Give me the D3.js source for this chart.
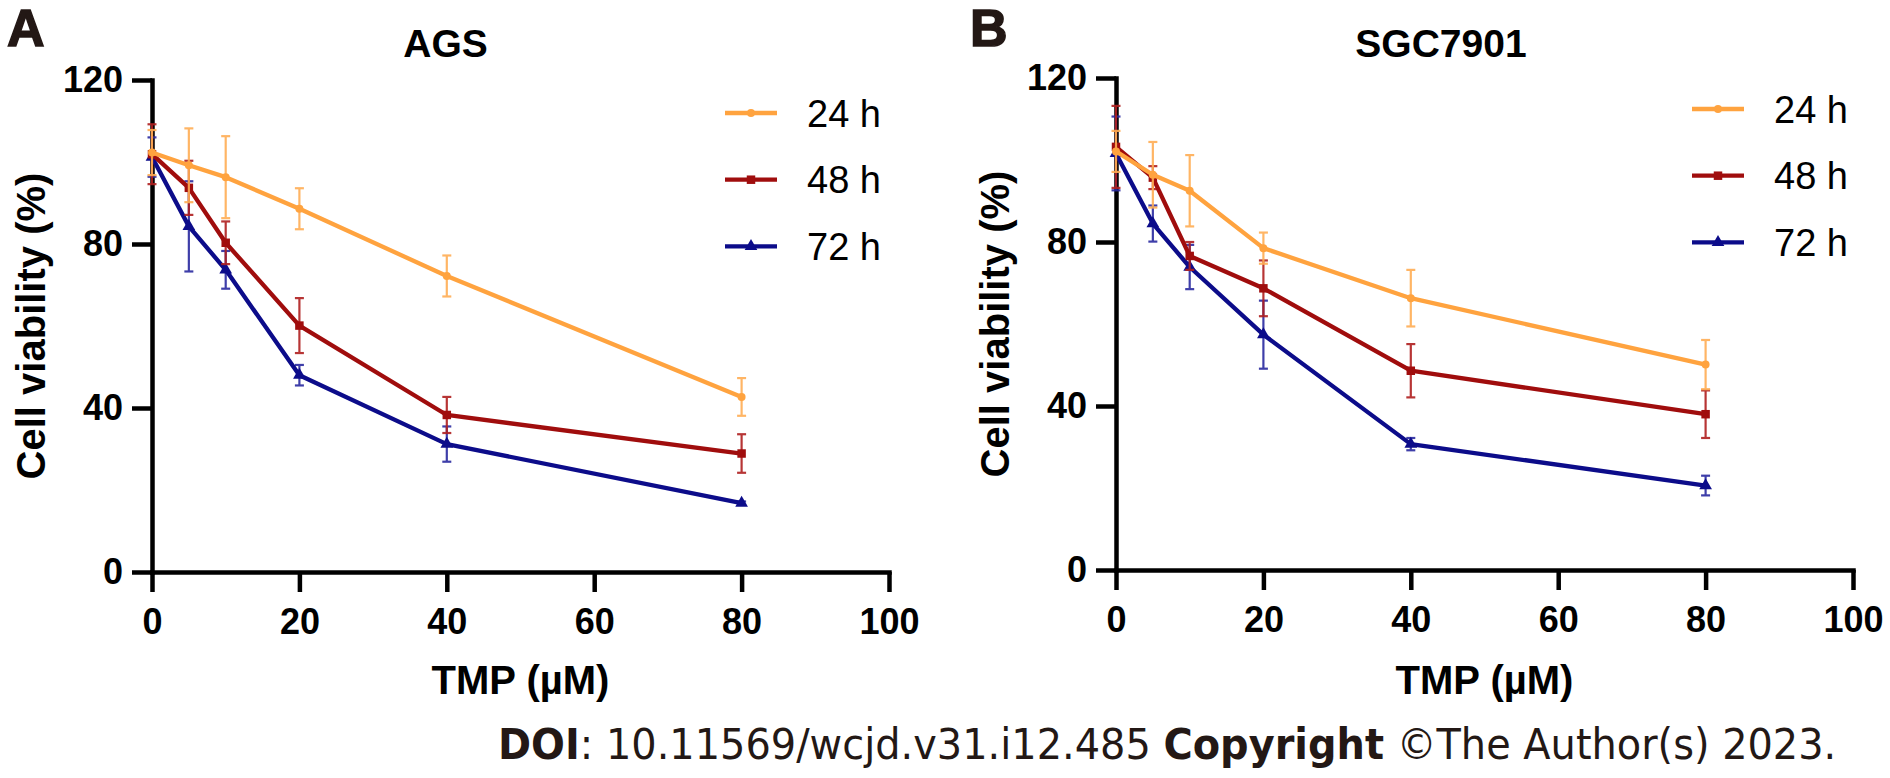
<!DOCTYPE html>
<html><head><meta charset="utf-8">
<script src="https://cdn.jsdelivr.net/npm/d3@7"></script>
<style>body{margin:0;background:#fff}svg{display:block}</style>
</head><body>
<svg id="c" width="1890" height="778"></svg>
<script>
// ---- data ----
const doses = [0, 5, 10, 20, 40, 80];
const seriesNames = ["24 h", "48 h", "72 h"];
const xTicks = [0, 20, 40, 60, 80, 100];
const yTicks = [0, 40, 80, 120];

const ags24 = [102.3, 99.2, 96.3, 88.6, 72.2, 42.7];
const ags24Err = [5.5, 9, 10, 5, 5, 4.6];
const ags48 = [101.9, 93.7, 80.3, 60.1, 38.3, 28.9];
const ags48Err = [7.3, 6.6, 5.2, 6.7, 4.4, 4.7];
const ags72 = [101.2, 84.3, 73.7, 48.0, 31.2, 16.8];
const ags72Err = [4.8, 11, 4.6, 2.5, 4.3, 0.4];

const sgc24 = [102.1, 96.4, 92.5, 78.5, 66.3, 50.1];
const sgc24Err = [5, 8, 8.7, 3.8, 6.9, 6];
const sgc48 = [103.2, 95.7, 76.6, 68.7, 48.6, 38.0];
const sgc48Err = [10, 2.8, 3.4, 6.8, 6.5, 5.8];
const sgc72 = [101.6, 84.5, 73.9, 57.4, 30.7, 20.6];
const sgc72Err = [9, 4.4, 5.4, 8.3, 1.5, 2.4];

// ---- styles ----
const lineColors = ["#FFA33F", "#A00D0D", "#0C0C8A"];
const errColors = ["#FFAE55", "#B02020", "#2A2AA0"];
const symbols = [d3.symbolCircle, d3.symbolSquare, d3.symbolTriangle];
const symSizes = [50, 72, 70];
const FONT = "'Liberation Sans', Arial, sans-serif";

const svg = d3.select("#c");

const panels = [
  {letter: "A", title: "AGS", titleX: 445.5, letterX: 7, x0: 152, x1: 889, y0: 572, y1: 80,
   ylabX: 45, legX: 725, legY: 113,
   vals: [ags24, ags48, ags72], errs: [ags24Err, ags48Err, ags72Err]},
  {letter: "B", title: "SGC7901", titleX: 1441, letterX: 970, x0: 1116, x1: 1853, y0: 570, y1: 78,
   ylabX: 1009, legX: 1692, legY: 109,
   vals: [sgc24, sgc48, sgc72], errs: [sgc24Err, sgc48Err, sgc72Err]}
];

panels.forEach(p => {
  const x = d3.scaleLinear().domain([0, 100]).range([p.x0, p.x1]);
  const y = d3.scaleLinear().domain([0, 120]).range([p.y0, p.y1]);
  const g = svg.append("g");

  // panel letter
  g.append("text").attr("x", p.letterX).attr("y", 46)
    .attr("font-family", FONT).attr("font-weight", "bold").attr("font-size", 52)
    .attr("fill", "#231815").attr("stroke", "#231815").attr("stroke-width", 1.5)
    .text(p.letter);

  // title
  g.append("text").attr("x", p.titleX).attr("y", 57).attr("text-anchor", "middle")
    .attr("font-family", FONT).attr("font-weight", "bold").attr("font-size", 39)
    .attr("fill", "#000").text(p.title);

  // axes
  const xa = g.append("g").attr("transform", `translate(0,${p.y0})`)
    .call(d3.axisBottom(x).tickValues(xTicks).tickSize(20).tickPadding(16).tickSizeOuter(0));
  const ya = g.append("g").attr("transform", `translate(${p.x0},0)`)
    .call(d3.axisLeft(y).tickValues(yTicks).tickSize(20).tickPadding(9).tickSizeOuter(0));
  [xa, ya].forEach(a => {
    a.select(".domain").attr("stroke", "#000").attr("stroke-width", 4.5).attr("stroke-linecap", "square");
    a.selectAll(".tick line").attr("stroke", "#000").attr("stroke-width", 4.5);
    a.selectAll(".tick text").attr("font-family", FONT).attr("font-weight", "bold")
      .attr("font-size", 36).attr("fill", "#000");
  });

  // axis titles
  g.append("text").attr("x", (p.x0 + p.x1) / 2).attr("y", 694).attr("text-anchor", "middle")
    .attr("font-family", FONT).attr("font-weight", "bold").attr("font-size", 40)
    .text("TMP (µM)");
  g.append("text")
    .attr("transform", `translate(${p.ylabX},${(p.y0 + p.y1) / 2}) rotate(-90)`)
    .attr("text-anchor", "middle")
    .attr("font-family", FONT).attr("font-weight", "bold").attr("font-size", 40)
    .text("Cell viability (%)");

  // series: draw 72h first, 24h last (on top)
  [2, 1, 0].forEach(si => {
    const vals = p.vals[si], errs = p.errs[si];
    const data = doses.map((d, i) => ({d, v: vals[i], e: errs[i]}));
    const sg = g.append("g");
    // error bars
    const eb = sg.selectAll(".eb").data(data).enter().append("g")
      .attr("stroke", errColors[si]).attr("stroke-width", 2.2).attr("opacity", 0.9);
    eb.append("line").attr("x1", d => x(d.d)).attr("x2", d => x(d.d))
      .attr("y1", d => y(d.v + d.e)).attr("y2", d => y(d.v - d.e));
    eb.append("line").attr("x1", d => x(d.d) - 4.5).attr("x2", d => x(d.d) + 4.5)
      .attr("y1", d => y(d.v + d.e)).attr("y2", d => y(d.v + d.e));
    eb.append("line").attr("x1", d => x(d.d) - 4.5).attr("x2", d => x(d.d) + 4.5)
      .attr("y1", d => y(d.v - d.e)).attr("y2", d => y(d.v - d.e));
    // line
    sg.append("path").datum(data)
      .attr("d", d3.line().x(d => x(d.d)).y(d => y(d.v)))
      .attr("fill", "none").attr("stroke", lineColors[si]).attr("stroke-width", 4.3)
      .attr("stroke-linejoin", "round");
    // markers
    sg.selectAll(".m").data(data).enter().append("path")
      .attr("transform", d => `translate(${x(d.d)},${y(d.v)})`)
      .attr("d", d3.symbol().type(symbols[si]).size(symSizes[si]))
      .attr("fill", lineColors[si]);
  });

  // legend
  seriesNames.forEach((name, si) => {
    const ly = p.legY + si * 66.7;
    g.append("line").attr("x1", p.legX).attr("x2", p.legX + 52).attr("y1", ly).attr("y2", ly)
      .attr("stroke", lineColors[si]).attr("stroke-width", 4.3);
    g.append("path").attr("transform", `translate(${p.legX + 26},${ly})`)
      .attr("d", d3.symbol().type(symbols[si]).size(symSizes[si]))
      .attr("fill", lineColors[si]);
    g.append("text").attr("x", p.legX + 82).attr("y", ly + 13.5)
      .attr("font-family", FONT).attr("font-size", 38).attr("fill", "#000").text(name);
  });
});

// footer
const ft = svg.append("text").attr("font-family", "'DejaVu Sans', Verdana, sans-serif")
  .attr("font-size", 42).attr("fill", "#231815");
ft.append("tspan").attr("font-weight", "bold").text("DOI");
ft.append("tspan").text(": 10.11569/wcjd.v31.i12.485 ");
ft.append("tspan").attr("font-weight", "bold").text("Copyright");
ft.append("tspan").text(" ©The Author(s) 2023.");
const fw = ft.node().getComputedTextLength();
ft.attr("transform", `translate(498,759) scale(${1339 / fw},1)`);
</script>
</body></html>
